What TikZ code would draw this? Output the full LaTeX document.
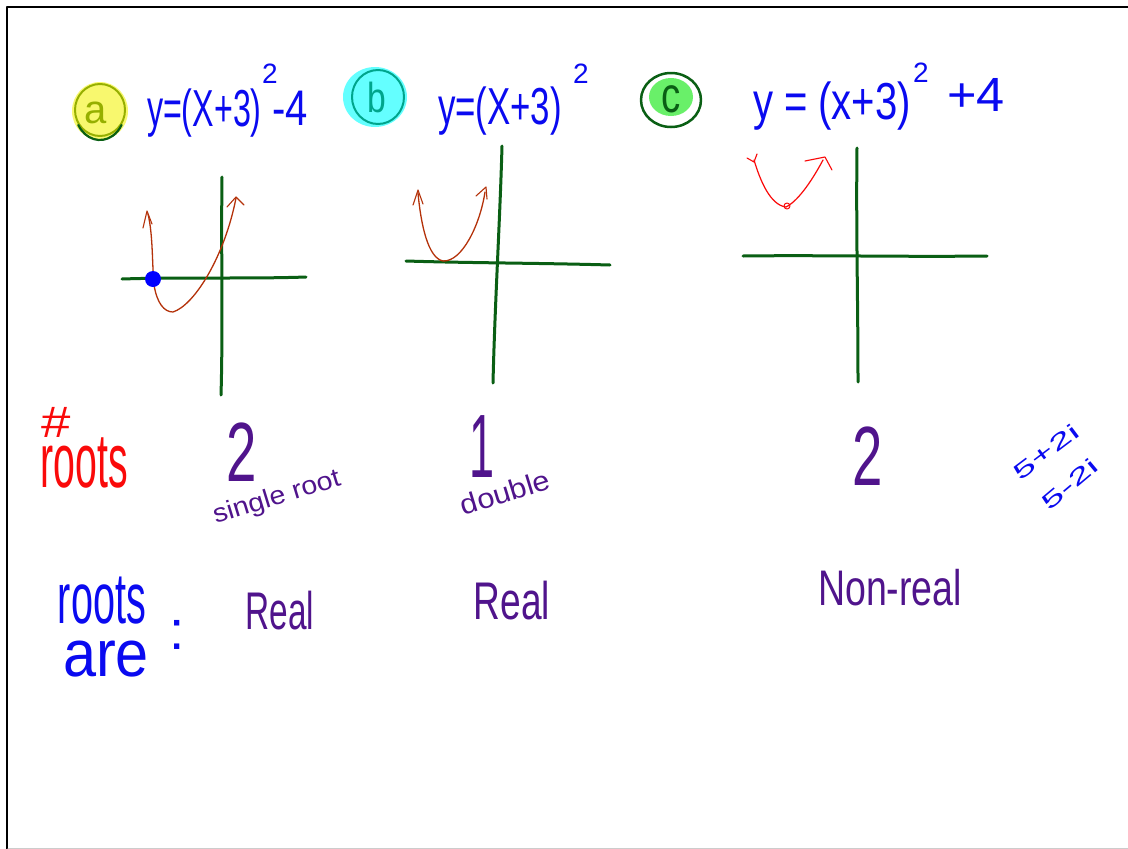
\documentclass[tikz,border=0pt]{standalone}
\usepackage{fontspec}
\setmainfont{Liberation Sans}
\newcommand{\hw}[3]{\fontsize{#1}{#1}\selectfont\scalebox{#2}[1]{#3}}
\definecolor{penblue}{RGB}{10,10,240}
\definecolor{penpurple}{RGB}{80,20,140}
\definecolor{penred}{RGB}{250,10,10}
\definecolor{penbrown}{RGB}{180,50,10}
\definecolor{axisgreen}{RGB}{10,95,20}
\definecolor{hlyellow}{RGB}{248,248,110}
\definecolor{hlcyan}{RGB}{100,255,255}
\definecolor{hlgreen}{RGB}{105,240,105}
\definecolor{olivepen}{RGB}{150,175,0}
\definecolor{tealpen}{RGB}{0,165,140}
\begin{document}
\begin{tikzpicture}[x=1pt,y=-1pt,line cap=round,line join=round,
  axis/.style={draw=axisgreen,line width=3pt},
  curve/.style={draw=penbrown,line width=1.3pt},
  txt/.style={inner sep=0pt,outer sep=0pt}]
\useasboundingbox (0,0) rectangle (1128,849);
\fill[white] (0,0) rectangle (1128,849);
\draw[black,line width=2.5pt,line cap=butt] (7,849) -- (7,7) -- (1128,7);
\draw[black!20,line width=1pt] (8,848.5) -- (1128,848.5);

% ---- labels a, b, c
\fill[hlyellow] (100,111) ellipse (28 and 29);
\draw[olivepen,line width=2pt] (100,110) ellipse (25 and 26);
\draw[axisgreen,line width=2.2pt] (78.3,125) arc (150:30:25 and 30);
\node[txt,text=olivepen] (la) at (96,113) {\hw{40}{1}{a}};

\fill[hlcyan] (375,97) ellipse (32 and 30);
\draw[tealpen,line width=2pt] (378,97) ellipse (26 and 27);
\node[txt,text=tealpen] (lb) at (377,97) {\hw{42}{0.8}{b}};

\fill[hlgreen] (671,97) ellipse (22 and 19);
\draw[axisgreen,line width=2.5pt] (671,100) ellipse (30 and 27);
\node[txt,text=axisgreen] (lc) at (671,99) {\hw{50}{0.77}{c}};

% ---- equations
\node[txt,text=penblue,anchor=base west] (ea) at (147,126) {\hw{52}{0.62}{y=(X+3)}};
\node[txt,text=penblue] (ea2) at (270,74) {\hw{28}{1}{2}};
\node[txt,text=penblue,anchor=base west] (ea3) at (272,125) {\hw{50}{0.8}{-4}};

\node[txt,text=penblue,anchor=base west] (eb) at (438,124) {\hw{52}{0.67}{y=(X+3)}};
\node[txt,text=penblue] (eb2) at (581,74) {\hw{28}{1}{2}};

\node[txt,text=penblue,anchor=base west] (ec) at (753,119) {\hw{52}{0.77}{y = (x+3)}};
\node[txt,text=penblue] (ec2) at (921,73) {\hw{28}{1}{2}};
\node[txt,text=penblue,anchor=base west] (ec3) at (947,111) {\hw{48}{1.05}{+4}};

% ---- graph a
\draw[axis] (122,279) .. controls (180,277) and (250,279) .. (306,277);
\draw[axis] (222,177) .. controls (221,250) and (223,330) .. (221,395);
\draw[curve] (148,214) .. controls (153,235) and (152,262) .. (154,285)
  .. controls (157,303) and (164,312) .. (173,312)
  .. controls (195,305) and (225,255) .. (236,198);
\draw[curve,line width=1.1pt] (143,228) -- (147,211) -- (152,224);
\draw[curve,line width=1.1pt] (227,207) -- (236,197) -- (244,205);
\fill[blue] (153,279) circle (8);

% ---- graph b
\draw[axis] (406,261) .. controls (470,263) and (540,263) .. (610,265);
\draw[axis] (502,146) .. controls (500,220) and (495,300) .. (493,383);
\draw[curve] (418,193) .. controls (421,225) and (428,258) .. (443,261)
  .. controls (462,262) and (480,225) .. (485,192);
\draw[curve,line width=1.1pt] (413,205) -- (418,190) -- (423,204);
\draw[curve,line width=1.1pt] (476,196) -- (486,187) -- (487,199);

% ---- graph c
\draw[axis] (743,256) .. controls (820,255) and (900,257) .. (987,256);
\draw[axis] (857,148) .. controls (856,230) and (858,300) .. (858,382);
\draw[draw=penred,line width=1.2pt] (754,160) .. controls (760,180) and (770,205) .. (786,207)
  .. controls (800,200) and (815,175) .. (823,160);
\draw[draw=penred,line width=1.1pt] (747,158) -- (754,162) -- (757,154);
\draw[draw=penred,line width=1.1pt] (805,161) -- (825,157) -- (832,170);
\draw[draw=penred,line width=1pt] (787,206) circle (3);

% ---- number of roots
\node[txt,text=penred] (hash) at (56,422) {\hw{44}{1.2}{\#}};
\node[txt,text=penred] (nroots) at (84,463) {\hw{77}{0.51}{roots}};
\node[txt,text=penpurple] (na) at (242,452) {\hw{84}{0.65}{2}};
\node[txt,text=penpurple,rotate=17] (sa) at (277,498) {\hw{26}{1.1}{single root}};
\node[txt,text=penpurple] (nb) at (482,447) {\hw{90}{0.5}{1}};
\node[txt,text=penpurple,rotate=17] (sb) at (505,492) {\hw{28}{1.1}{double}};
\node[txt,text=penpurple] (nc) at (868,456) {\hw{84}{0.65}{2}};
\node[txt,text=penblue,rotate=37] (cz1) at (1046,452) {\hw{22}{1.8}{5+2i}};
\node[txt,text=penblue,rotate=40] (cz2) at (1070,484) {\hw{22}{1.8}{5-2i}};

% ---- roots are
\node[txt,text=penblue] (rts) at (102,601) {\hw{72}{0.55}{roots}};
\node[txt,text=penblue] (are) at (106,659) {\hw{66}{0.9}{are}};
\node[txt,text=penblue] (col) at (177,635) {\hw{55}{1}{:}};
\node[txt,text=penpurple] (ra) at (280,611) {\hw{53}{0.63}{Real}};
\node[txt,text=penpurple] (rb) at (512,601) {\hw{53}{0.7}{Real}};
\node[txt,text=penpurple] (rc) at (890,588) {\hw{50}{0.75}{Non-real}};
\end{tikzpicture}
\end{document}
